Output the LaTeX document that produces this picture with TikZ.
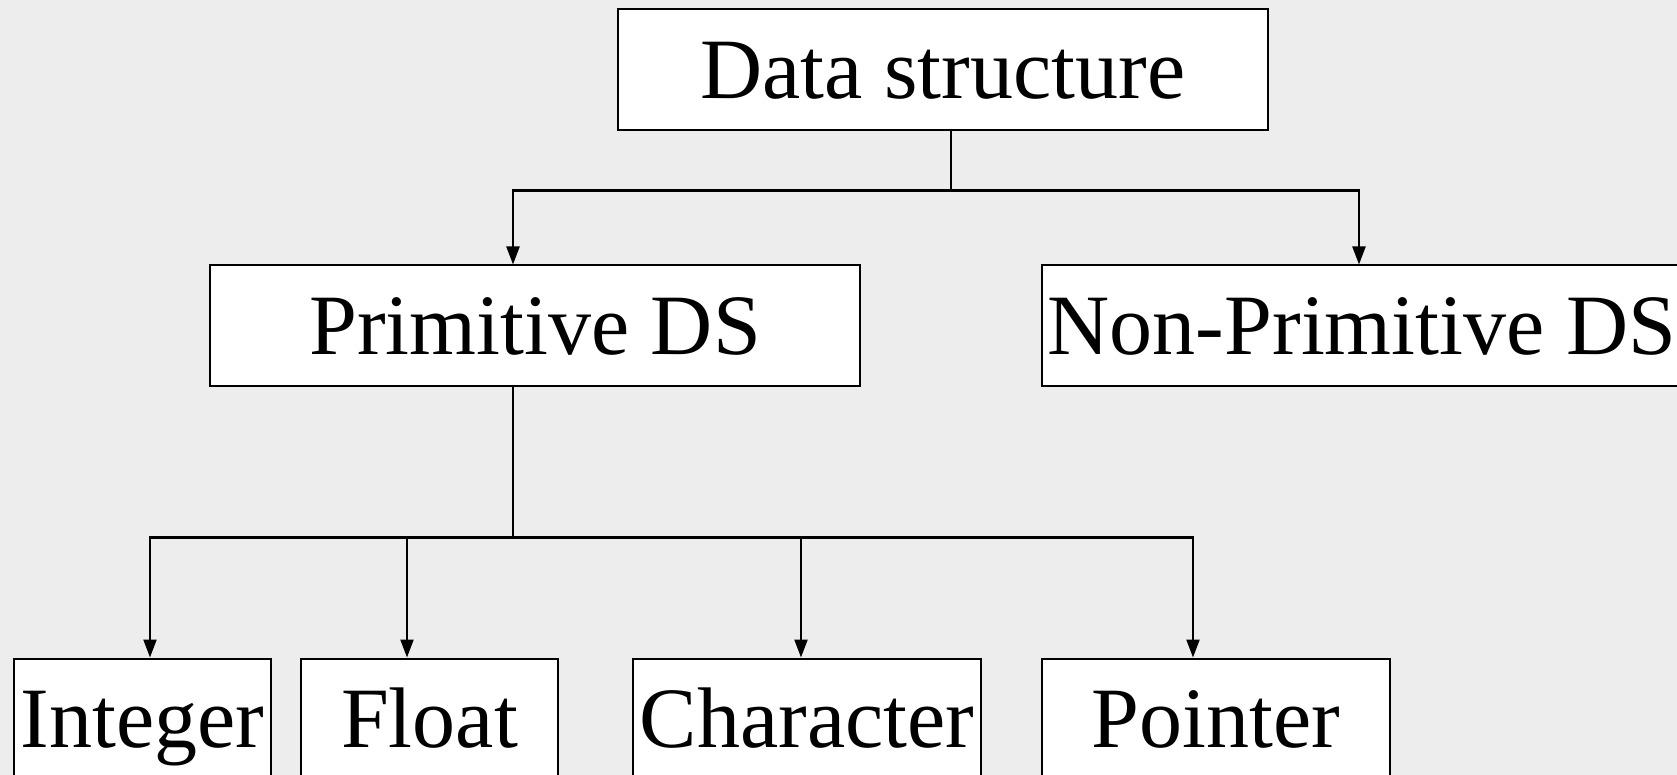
\documentclass[tikz,border=0pt]{standalone}
\usepackage{fontspec}
\setmainfont{Liberation Serif}
\usetikzlibrary{arrows.meta,calc}
\definecolor{slidebg}{HTML}{EDEDED}
\tikzset{
  DSBox/.style={
    draw=black, line width=1pt, fill=white,
    inner sep=0pt, minimum height=60.5pt,
    font=\fontsize{43}{50}\selectfont,
    text height=28.5pt, text depth=0pt
  },
  Link/.style={line width=1.1pt},
  Down/.style={Link, -{Triangle[length=9pt,width=6.5pt]}}
}

\begin{document}
\begin{tikzpicture}[x=0.5pt, y=-0.5pt, line join=miter]
  \useasboundingbox (0,0) rectangle (1677,775);
  \clip (0,0) rectangle (1677,775);
  \fill[slidebg] (0,0) rectangle (1677,775);

  % root
  \node[DSBox, minimum width=325pt] (ds) at (943,70) {Data structure};

  % first level
  \node[DSBox, minimum width=325pt] (prim) at (535,326) {Primitive DS};
  \node[DSBox, minimum width=320pt] (nonprim) at (1362,326) {Non-Primitive DS};

  % second level
  \node[DSBox, minimum width=128.5pt] (int) at (142.5,719) {Integer};
  \node[DSBox, minimum width=128.5pt] (flt) at (429.5,719) {Float};
  \node[DSBox, minimum width=174pt] (chr) at (807,719) {Character};
  \node[DSBox, minimum width=174pt] (ptr) at (1216,719) {Pointer};

  % root -> first level
  \draw[Link] ($(ds.south)+(8,0)$) -- ++(0,59) coordinate (busA);
  \draw[Down] (busA) -| ($(prim.north)+(-22,0)$);
  \draw[Down] (busA) -| ($(nonprim.north)+(-3,0)$);

  % primitive -> second level
  \draw[Link] ($(prim.south)+(-22,0)$) -- ++(0,150) coordinate (busB);
  \draw[Down] (busB) -| ($(int.north)+(7.5,0)$);
  \draw[Down] (busB) -| ($(flt.north)+(-22.5,0)$);
  \draw[Down] (busB) -| ($(chr.north)+(-6,0)$);
  \draw[Down] (busB) -| ($(ptr.north)+(-23,0)$);
\end{tikzpicture}
\end{document}
